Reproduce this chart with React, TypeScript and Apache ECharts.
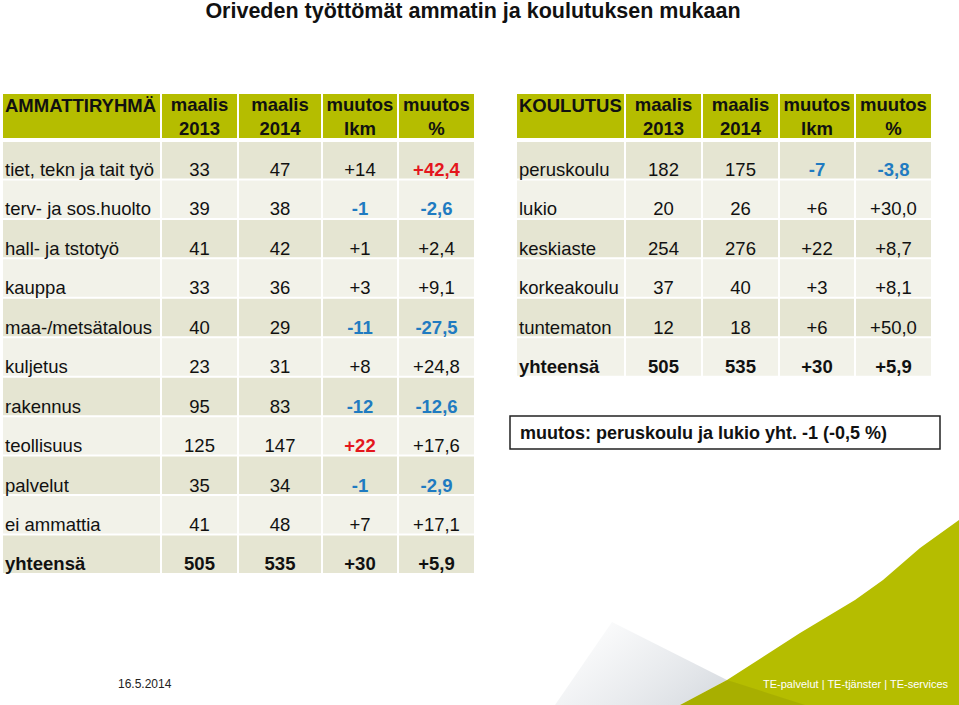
import React, { useEffect, useRef } from "react";
import * as echarts from "echarts";

// ---------- data ----------
const TITLE = "Oriveden työttömät ammatin ja koulutuksen mukaan";
const headerLeft = ["AMMATTIRYHMÄ", "maalis\n2013", "maalis\n2014", "muutos\nlkm", "muutos\n%"];
const headerRight = ["KOULUTUS", "maalis\n2013", "maalis\n2014", "muutos\nlkm", "muutos\n%"];

const occupations = [
  "tiet, tekn ja tait työ",
  "terv- ja sos.huolto",
  "hall- ja tstotyö",
  "kauppa",
  "maa-/metsätalous",
  "kuljetus",
  "rakennus",
  "teollisuus",
  "palvelut",
  "ei ammattia",
  "yhteensä",
];
const occ2013 = [33, 39, 41, 33, 40, 23, 95, 125, 35, 41, 505];
const occ2014 = [47, 38, 42, 36, 29, 31, 83, 147, 34, 48, 535];
const occChange = [14, -1, 1, 3, -11, 8, -12, 22, -1, 7, 30];
const occChangePct = [42.4, -2.6, 2.4, 9.1, -27.5, 24.8, -12.6, 17.6, -2.9, 17.1, 5.9];

const education = ["peruskoulu", "lukio", "keskiaste", "korkeakoulu", "tuntematon", "yhteensä"];
const edu2013 = [182, 20, 254, 37, 12, 505];
const edu2014 = [175, 26, 276, 40, 18, 535];
const eduChange = [-7, 6, 22, 3, 6, 30];
const eduChangePct = [-3.8, 30.0, 8.7, 8.1, 50.0, 5.9];

// highlighted cells: [row, column, tone]
const occHighlights: [number, number, string][] = [
  [0, 4, "up"],
  [1, 3, "down"], [1, 4, "down"],
  [4, 3, "down"], [4, 4, "down"],
  [6, 3, "down"], [6, 4, "down"],
  [7, 3, "up"],
  [8, 3, "down"], [8, 4, "down"],
];
const eduHighlights: [number, number, string][] = [[0, 3, "down"], [0, 4, "down"]];

const NOTE = "muutos: peruskoulu ja lukio yht. -1 (-0,5 %)";
const DATE = "16.5.2014";
const FOOTER = "TE-palvelut | TE-tjänster | TE-services";

// ---------- layout / style ----------
const FONT = "'Liberation Sans', Arial, Helvetica, sans-serif";
const HEADER_H = 46;
const ROW_H = 39.45;
const LEFT_COLS = [158, 77, 84, 76, 77];
const RIGHT_COLS = [108, 77, 77, 76, 77];
const GREEN = "#b5bd00";
const ROW_DARK = "#e5e5d2";
const ROW_LIGHT = "#f2f2e9";
const RED = "#e4161d";
const BLUE = "#1f7bc1";

const fmtCount = (v: number) => (v > 0 ? "+" : "") + String(v);
const fmtPct = (v: number) => (v > 0 ? "+" : "") + v.toFixed(1).replace(".", ",");

type Cell = { row: number; col: number; text: string; bold: boolean; color: string };

function buildTable(
  headers: string[],
  labels: string[],
  a: number[],
  b: number[],
  chg: number[],
  pct: number[],
  highlights: [number, number, string][],
  colW: number[]
) {
  const edges = [0];
  colW.forEach((w) => edges.push(edges[edges.length - 1] + w));
  const cells: Cell[] = [];
  const data: number[][] = [];
  headers.forEach((h, c) => {
    cells.push({ row: -1, col: c, text: h, bold: true, color: "#111" });
    data.push([edges[c], 0, edges[c + 1], HEADER_H]);
  });
  labels.forEach((lab, r) => {
    const vals = [lab, String(a[r]), String(b[r]), fmtCount(chg[r]), fmtPct(pct[r])];
    const isTotal = r === labels.length - 1;
    vals.forEach((t, c) => {
      const hl = highlights.find((h) => h[0] === r && h[1] === c);
      cells.push({
        row: r,
        col: c,
        text: t,
        bold: isTotal || !!hl,
        color: hl ? (hl[2] === "up" ? RED : BLUE) : "#111",
      });
      data.push([edges[c], HEADER_H + r * ROW_H, edges[c + 1], HEADER_H + (r + 1) * ROW_H]);
    });
  });
  return { cells, data, width: edges[edges.length - 1], height: HEADER_H + labels.length * ROW_H };
}

const leftTable = buildTable(headerLeft, occupations, occ2013, occ2014, occChange, occChangePct, occHighlights, LEFT_COLS);
const rightTable = buildTable(headerRight, education, edu2013, edu2014, eduChange, eduChangePct, eduHighlights, RIGHT_COLS);

function makeRender(cells: Cell[]) {
  return (params: any, api: any) => {
    const cell = cells[params.dataIndex];
    const p0 = api.coord([api.value(0), api.value(1)]);
    const p1 = api.coord([api.value(2), api.value(3)]);
    const x0 = p0[0], y0 = p0[1], x1 = p1[0], y1 = p1[1];
    const isHead = cell.row < 0;
    const fill = isHead ? GREEN : cell.row % 2 === 0 ? ROW_DARK : ROW_LIGHT;
    const top = isHead ? y0 : y0 + (cell.row === 0 ? 2 : 1);
    const bottom = isHead ? y1 - 2 : y1 - 1;
    const rect = {
      type: "rect",
      shape: { x: x0 + (cell.col === 0 ? 0 : 1), y: top, width: x1 - x0 - (cell.col === 0 ? 1 : 2), height: bottom - top },
      style: { fill },
    };
    let tx: number, ty: number, align: string;
    if (cell.col === 0) {
      tx = x0 + 2;
      align = "left";
    } else {
      tx = (x0 + x1) / 2;
      align = "center";
    }
    if (isHead) {
      ty = cell.col === 0 ? y0 + 11 : (y0 + y1) / 2 - 1;
    } else {
      ty = y1 - 10;
    }
    const text = {
      type: "text",
      x: tx,
      y: ty,
      style: {
        text: cell.text,
        fill: cell.color,
        fontSize: 18.5,
        fontWeight: cell.bold ? "bold" : "normal",
        fontFamily: FONT,
        align,
        verticalAlign: "middle",
        lineHeight: 24,
      },
    };
    return { type: "group", children: [rect, text] };
  };
}

export default function App() {
  const ref = useRef<HTMLDivElement>(null);
  useEffect(() => {
    if (!ref.current) return;
    const chart = echarts.init(ref.current, undefined, { renderer: "svg" });
    const option: any = {
      animation: false,
      backgroundColor: "#ffffff",
      grid: [
        { left: 3, top: 94, width: leftTable.width, height: leftTable.height },
        { left: 517, top: 94, width: rightTable.width, height: rightTable.height },
      ],
      xAxis: [
        { type: "value", gridIndex: 0, min: 0, max: leftTable.width, show: false },
        { type: "value", gridIndex: 1, min: 0, max: rightTable.width, show: false },
      ],
      yAxis: [
        { type: "value", gridIndex: 0, min: 0, max: leftTable.height, inverse: true, show: false },
        { type: "value", gridIndex: 1, min: 0, max: rightTable.height, inverse: true, show: false },
      ],
      series: [
        {
          type: "custom",
          xAxisIndex: 0,
          yAxisIndex: 0,
          silent: true,
          clip: false,
          encode: { x: [0, 2], y: [1, 3] },
          data: leftTable.data,
          renderItem: makeRender(leftTable.cells),
        },
        {
          type: "custom",
          xAxisIndex: 1,
          yAxisIndex: 1,
          silent: true,
          clip: false,
          encode: { x: [0, 2], y: [1, 3] },
          data: rightTable.data,
          renderItem: makeRender(rightTable.cells),
        },
      ],
      graphic: [
        {
          type: "polygon",
          silent: true,
          shape: { points: [[555, 705], [612, 622], [727, 680], [680, 705]] },
          style: {
            fill: new echarts.graphic.LinearGradient(0, 0.2, 1, 0.8, [
              { offset: 0, color: "rgba(225,228,232,0)" },
              { offset: 0.5, color: "rgba(225,228,232,0.6)" },
              { offset: 1, color: "rgba(216,220,225,1)" },
            ]),
          },
        },
        {
          type: "polygon",
          silent: true,
          shape: {
            points: [[680, 705], [727, 680], [800, 633], [855, 600], [883, 580], [920, 548], [959, 520], [959, 705]],
          },
          style: { fill: GREEN },
        },
        {
          type: "polygon",
          silent: true,
          shape: { points: [[680, 705], [727, 680], [805, 705]] },
          style: { fill: "rgba(60,60,0,0.10)" },
        },
        {
          type: "text",
          x: 473,
          y: 11,
          style: {
            text: TITLE,
            fill: "#111",
            fontSize: 21.5,
            fontWeight: "bold",
            fontFamily: FONT,
            align: "center",
            verticalAlign: "middle",
          },
        },
        {
          type: "rect",
          shape: { x: 510, y: 416, width: 430, height: 33 },
          style: { fill: "#fff", stroke: "#222", lineWidth: 1.5 },
        },
        {
          type: "text",
          x: 520,
          y: 433,
          style: {
            text: NOTE,
            fill: "#111",
            fontSize: 18,
            fontWeight: "bold",
            fontFamily: FONT,
            align: "left",
            verticalAlign: "middle",
          },
        },
        {
          type: "text",
          x: 118,
          y: 684,
          style: { text: DATE, fill: "#222", fontSize: 12, fontFamily: FONT, align: "left", verticalAlign: "middle" },
        },
        {
          type: "text",
          x: 763,
          y: 684,
          style: { text: FOOTER, fill: "#ffffff", fontSize: 11, fontFamily: FONT, align: "left", verticalAlign: "middle" },
        },
      ],
    };
    chart.setOption(option);
    return () => chart.dispose();
  }, []);
  return (
    <div
      ref={ref}
      style={{ position: "fixed", left: 0, top: 0, width: 959, height: 705, background: "#fff" }}
    />
  );
}
